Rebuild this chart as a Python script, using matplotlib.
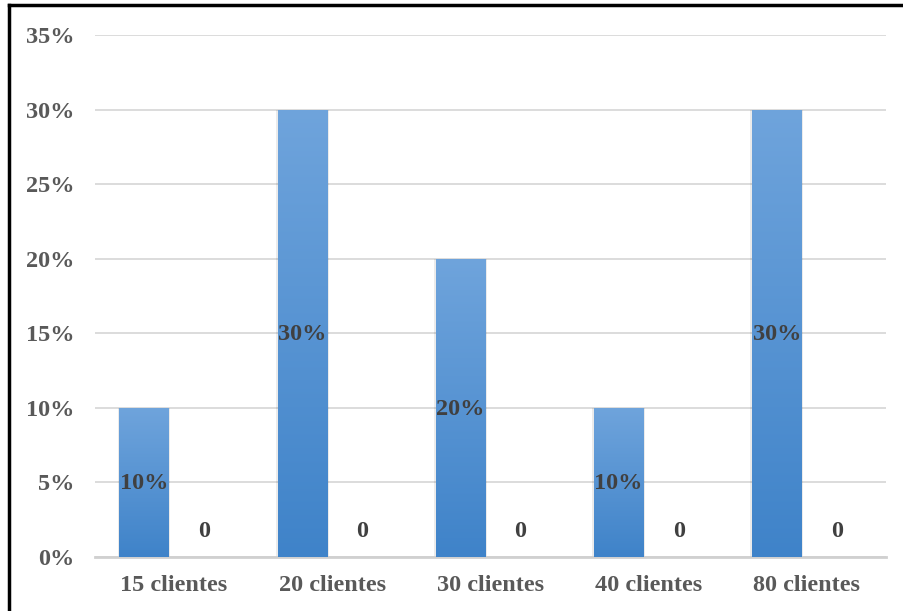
import numpy as np
import matplotlib.pyplot as plt
from matplotlib.colors import LinearSegmentedColormap
from matplotlib.patches import Rectangle
from matplotlib.lines import Line2D

categories = ["15 clientes", "20 clientes", "30 clientes", "40 clientes", "80 clientes"]
share = [0.10, 0.30, 0.20, 0.10, 0.30]
other = [0, 0, 0, 0, 0]
yticks = [0, 0.05, 0.10, 0.15, 0.20, 0.25, 0.30, 0.35]

plt.rcParams['font.family'] = ['Liberation Serif', 'DejaVu Serif']
plt.rcParams['font.weight'] = 'bold'

fig = plt.figure(figsize=(9.04, 6.11), dpi=100)
ax = fig.add_axes([0.105, 0.0884, 0.875, 0.8543])

x = np.arange(len(categories))
width = 0.31
offset = 0.19
fs = 17.5

grad = LinearSegmentedColormap.from_list("bar", ["#3F83C9", "#6FA4DC"])
ramp = np.linspace(0, 1, 256).reshape(-1, 1)

bars = ax.bar(x - offset, share, width, color="none", zorder=3)
for b in bars:
    x0, y0, w, h = b.get_x(), b.get_y(), b.get_width(), b.get_height()
    # soft shadow behind the bar
    ax.add_patch(Rectangle((x0 - 0.012, y0), w + 0.024, h,
                           color="#000000", alpha=0.08, lw=0, zorder=2))
    im = ax.imshow(ramp, cmap=grad, origin="lower", aspect="auto",
                   extent=[x0, x0 + w, y0, y0 + h], zorder=3)
    im.set_clip_path(b)
    ax.text(x0 + w / 2, h / 2 - 0.001, f"{h * 100:.0f}%", ha="center",
            va="center", fontsize=fs, fontweight="bold", color="#404040",
            zorder=4)

ax.bar(x + offset, other, width, color="#4A88CC", zorder=3)
for xi, v in zip(x + offset, other):
    ax.text(xi, v + 0.017, f"{v}", ha="center", va="center",
            fontsize=fs, fontweight="bold", color="#404040", zorder=4)

ax.set_xlim(-0.5, len(categories) - 0.5)
ax.set_ylim(0, 0.35)
ax.set_yticks(yticks)
ax.set_yticklabels([f"{t * 100:.0f}%" for t in yticks])
ax.set_xticks(x)
ax.set_xticklabels(categories)
ax.tick_params(axis="both", length=0, labelsize=fs, labelcolor="#595959")
ax.tick_params(axis="y", pad=15)
ax.tick_params(axis="x", pad=13)
for lbl in ax.get_xticklabels() + ax.get_yticklabels():
    lbl.set_fontweight("bold")

ax.grid(axis="y", color="#D9D9D9", lw=1.3, zorder=0)
ax.set_axisbelow(True)
for s in ["top", "right", "left"]:
    ax.spines[s].set_visible(False)
ax.spines["bottom"].set_color("#D0D0D0")
ax.spines["bottom"].set_linewidth(2)

# outer frame on the left and top edges
fig.add_artist(Line2D([0.0095, 0.0095], [0, 0.991], transform=fig.transFigure,
                      color="black", lw=2.5))
fig.add_artist(Line2D([0.0095, 1], [0.991, 0.991], transform=fig.transFigure,
                      color="black", lw=2.5))

fig.savefig("out.png", dpi=100)
